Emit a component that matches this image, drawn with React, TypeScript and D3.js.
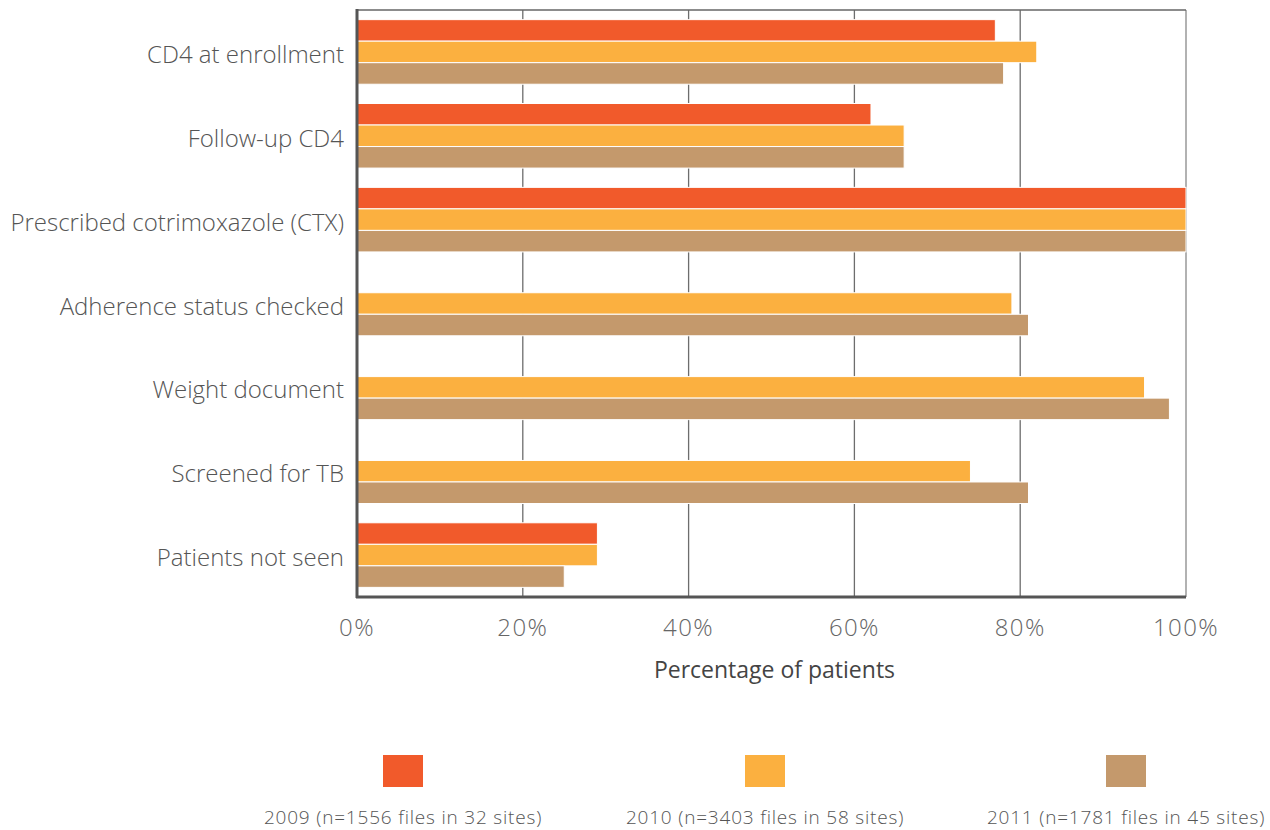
import React from "react";
import * as d3 from "d3";

const categories = [
  "CD4 at enrollment",
  "Follow-up CD4",
  "Prescribed cotrimoxazole (CTX)",
  "Adherence status checked",
  "Weight document",
  "Screened for TB",
  "Patients not seen",
];
const seriesNames = [
  "2009 (n=1556 files in 32 sites)",
  "2010 (n=3403 files in 58 sites)",
  "2011 (n=1781 files in 45 sites)",
];
const values2009: (number | null)[] = [77, 62, 100, null, null, null, 29];
const values2010: (number | null)[] = [82, 66, 100, 79, 95, 74, 29];
const values2011: (number | null)[] = [78, 66, 100, 81, 98, 81, 25];
const colors = ["#F15A2B", "#FBB040", "#C4996C"];
const xTicks = [0, 20, 40, 60, 80, 100];

export default function App() {
  const W = 1270, H = 830;
  const left = 357, right = 1186, top = 10, bottom = 597;
  const x = d3.scaleLinear().domain([0, 100]).range([left, right]);
  const y = d3.scaleBand().domain(categories).range([top, bottom]).paddingInner(0.23).paddingOuter(0.115);
  const series = [values2009, values2010, values2011];
  const inner = d3.scaleBand().domain(["0", "1", "2"]).range([0, y.bandwidth()]).padding(0);
  const font = "'Open Sans', sans-serif";
  const legendCenters = [403, 765, 1126];
  return (
    <svg width={W} height={H} style={{ position: "absolute", left: 0, top: 0 }}>
      <rect x={0} y={0} width={W} height={H} fill="#fff" />
      {xTicks.slice(1, -1).map((t) => (
        <line key={t} x1={x(t)} x2={x(t)} y1={top} y2={bottom} stroke="#6d6d6d" strokeWidth={1.3} />
      ))}
      <line x1={x(100)} x2={x(100)} y1={top} y2={bottom} stroke="#999" strokeWidth={1.5} />
      <line x1={left} x2={right} y1={top} y2={top} stroke="#666" strokeWidth={1.5} />
      {categories.map((c, i) => (
        <g key={c}>
          {series.map((s, j) =>
            s[i] == null ? null : (
              <rect
                key={j}
                x={x(0)}
                y={(y(c) as number) + (inner(String(j)) as number)}
                width={x(s[i] as number) - x(0)}
                height={inner.bandwidth()}
                fill={colors[j]}
                stroke="#fff"
                strokeWidth={1}
              />
            )
          )}
          <text
            x={344}
            y={(y(c) as number) + y.bandwidth() / 2 + 1.5}
            textAnchor="end"
            dominantBaseline="central"
            fontFamily={font}
            fontWeight={300}
            fontSize={24}
            fill="#555"
          >
            {c}
          </text>
        </g>
      ))}
      <line x1={left} x2={left} y1={top - 1} y2={bottom + 1} stroke="#555" strokeWidth={3} />
      <line x1={left - 1} x2={right} y1={bottom} y2={bottom} stroke="#555" strokeWidth={3} />
      {xTicks.map((t) => (
        <text key={t} x={x(t)} y={636} textAnchor="middle" fontFamily={font} fontWeight={300} fontSize={24} letterSpacing={1.4} fill="#666">
          {t}%
        </text>
      ))}
      <text x={(left + right) / 2 + 3} y={678} textAnchor="middle" fontFamily={font} fontSize={23} fill="#444">
        Percentage of patients
      </text>
      {seriesNames.map((n, j) => (
        <g key={n}>
          <rect x={legendCenters[j] - 20} y={755} width={40} height={32} fill={colors[j]} />
          <text x={legendCenters[j]} y={824} textAnchor="middle" fontFamily={font} fontWeight={300} fontSize={19} letterSpacing={0.8} fill="#555">
            {n}
          </text>
        </g>
      ))}
    </svg>
  );
}
